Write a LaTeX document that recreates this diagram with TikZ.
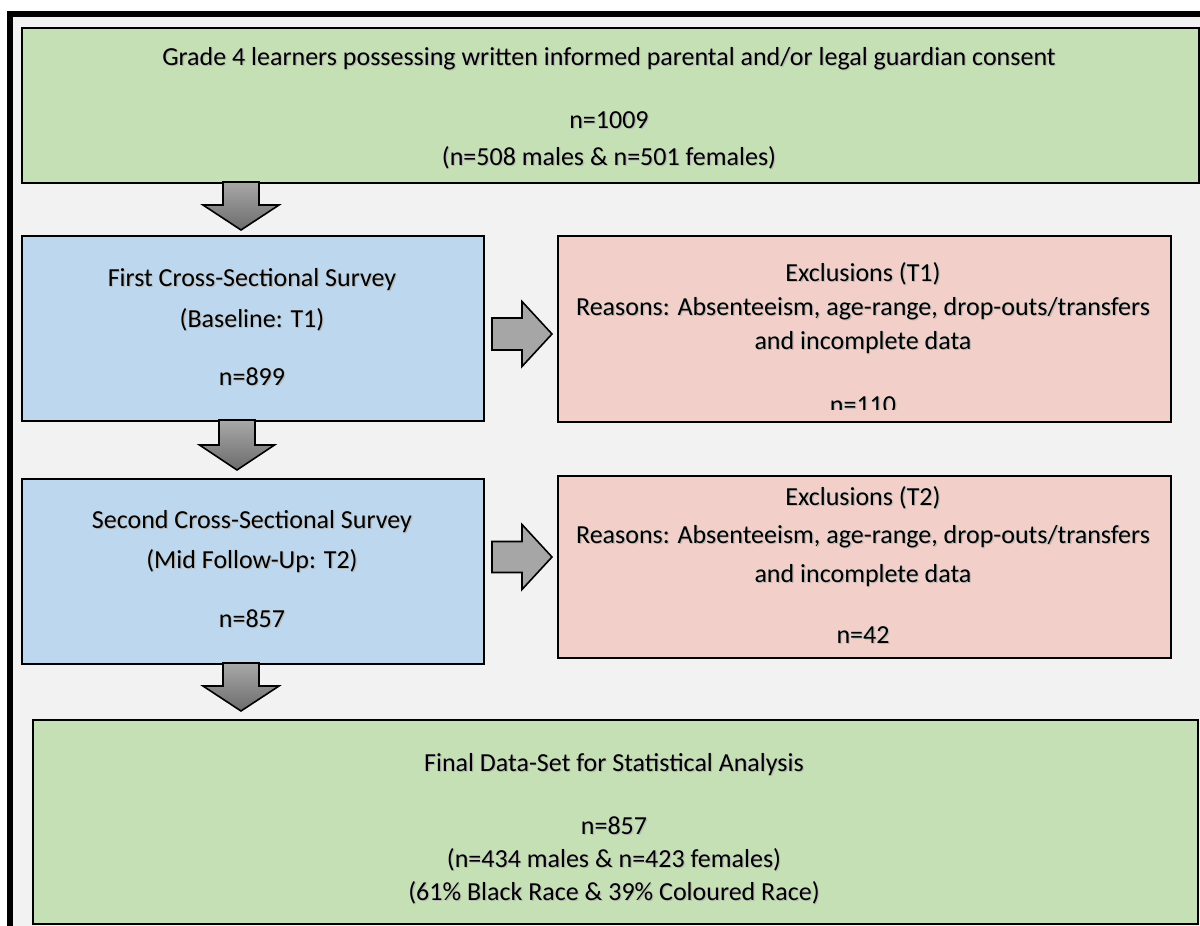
\documentclass[tikz,border=0pt]{standalone}
\usepackage{fontspec}
\setmainfont{Carlito}
\usetikzlibrary{calc}
\definecolor{bgpanel}{HTML}{F2F2F2}
\definecolor{boxgreen}{HTML}{C5E0B4}
\definecolor{boxblue}{HTML}{BDD7EE}
\definecolor{boxpink}{HTML}{F2D0C9}
\definecolor{arrowtop}{HTML}{A8A8A8}
\definecolor{arrowbot}{HTML}{6C6C6C}
\definecolor{arrowflat}{HTML}{A6A6A6}
% text with a soft grey drop shadow
\newcommand{\shd}[1]{\leavevmode\rlap{\raisebox{-1.2pt}{\kern1.2pt\textcolor{black!28}{#1}}}#1}
\tikzset{
  stagebox/.style={draw=black, line width=2pt, rectangle, anchor=north west, inner sep=0pt},
  label/.style={anchor=base, inner sep=0pt, font=\fontsize{26}{30}\selectfont, text=black},
  downblock/.style={draw=black, line width=1.6pt, top color=arrowtop, bottom color=arrowbot, line join=miter},
  rightblock/.style={draw=black, line width=1.6pt, fill=arrowflat, line join=miter},
}
% vertical block arrow: centre x, top y, head y, tip y, half shaft, half head
\newcommand{\vblk}[6]{%
  \path[downblock] (#1-#5,#2) -- (#1+#5,#2) -- (#1+#5,#3) -- (#1+#6,#3) -- (#1,#4)
    -- (#1-#6,#3) -- (#1-#5,#3) -- cycle;}
% horizontal block arrow: centre y, tail x, head x, tip x, half shaft, half head
\newcommand{\hblk}[6]{%
  \path[rightblock] (#2,#1-#5) -- (#3,#1-#5) -- (#3,#1-#6) -- (#4,#1) -- (#3,#1+#6)
    -- (#3,#1+#5) -- (#2,#1+#5) -- cycle;}
\begin{document}
\begin{tikzpicture}[x=1pt,y=-1pt]
\useasboundingbox (0,0) rectangle (1200,926);
\fill[white] (0,0) rectangle (1200,926);
% panel with heavy frame on the left and top
\fill[bgpanel] (10,14) rectangle (1200,926);
\draw[line width=6pt] (10,926) -- (10,14) -- (1200,14);

% stage boxes
\node[stagebox, fill=boxgreen, minimum width=1177pt, minimum height=155pt] (consent) at (21,27) {};
\node[stagebox, fill=boxblue, minimum width=462pt, minimum height=185pt] (survA) at (21,235) {};
\node[stagebox, fill=boxpink, minimum width=613pt, minimum height=186pt] (exclA) at (557,235) {};
\node[stagebox, fill=boxblue, minimum width=462pt, minimum height=185pt] (survB) at (21,478) {};
\node[stagebox, fill=boxpink, minimum width=613pt, minimum height=182pt] (exclB) at (557,475) {};
\node[stagebox, fill=boxgreen, minimum width=1165pt, minimum height=204pt] (final) at (32,719) {};

% block arrows between the stages
\vblk{241}{182}{205}{230}{18}{38}
\vblk{237}{420}{445}{470}{18}{37.5}
\vblk{241}{663}{686}{711}{18}{38}
\hblk{334}{492}{522}{552}{16}{32.5}
\hblk{557}{492}{522}{552}{15.5}{32.5}

% consent box text
\node[label] (c1) at (609,65) {\shd{Grade 4 learners possessing written informed parental and/or legal guardian consent}};
\node[label] (c2) at (609,128) {\shd{n=1009}};
\node[label] (c3) at (609,165) {\shd{(n=508 males \& n=501 females)}};

% first survey
\node[label] (a1) at (252,286) {\shd{First Cross-Sectional Survey}};
\node[label] (a2) at (252,327) {\shd{(Baseline: T1)}};
\node[label] (a3) at (252,385) {\shd{n=899}};

% first exclusions
\node[label] (e1) at (863,281) {\shd{Exclusions (T1)}};
\node[label] (e2) at (863,315) {\shd{Reasons: Absenteeism, age-range, drop-outs/transfers}};
\node[label] (e3) at (863,349) {\shd{and incomplete data}};
\begin{scope}
  \clip (557,235) rectangle (1170,409);
  \node[label] (e4) at (863,413) {\shd{n=110}};
\end{scope}

% second survey
\node[label] (b1) at (252,528) {\shd{Second Cross-Sectional Survey}};
\node[label] (b2) at (252,568) {\shd{(Mid Follow-Up: T2)}};
\node[label] (b3) at (252,627) {\shd{n=857}};

% second exclusions
\node[label] (f1) at (863,505) {\shd{Exclusions (T2)}};
\node[label] (f2) at (863,543) {\shd{Reasons: Absenteeism, age-range, drop-outs/transfers}};
\node[label] (f3) at (863,582) {\shd{and incomplete data}};
\node[label] (f4) at (863,643) {\shd{n=42}};

% final data set
\node[label] (g1) at (614,771) {\shd{Final Data-Set for Statistical Analysis}};
\node[label] (g2) at (614,834) {\shd{n=857}};
\node[label] (g3) at (614,867) {\shd{(n=434 males \& n=423 females)}};
\node[label] (g4) at (614,900) {\shd{(61\% Black Race \& 39\% Coloured Race)}};
\end{tikzpicture}
\end{document}
